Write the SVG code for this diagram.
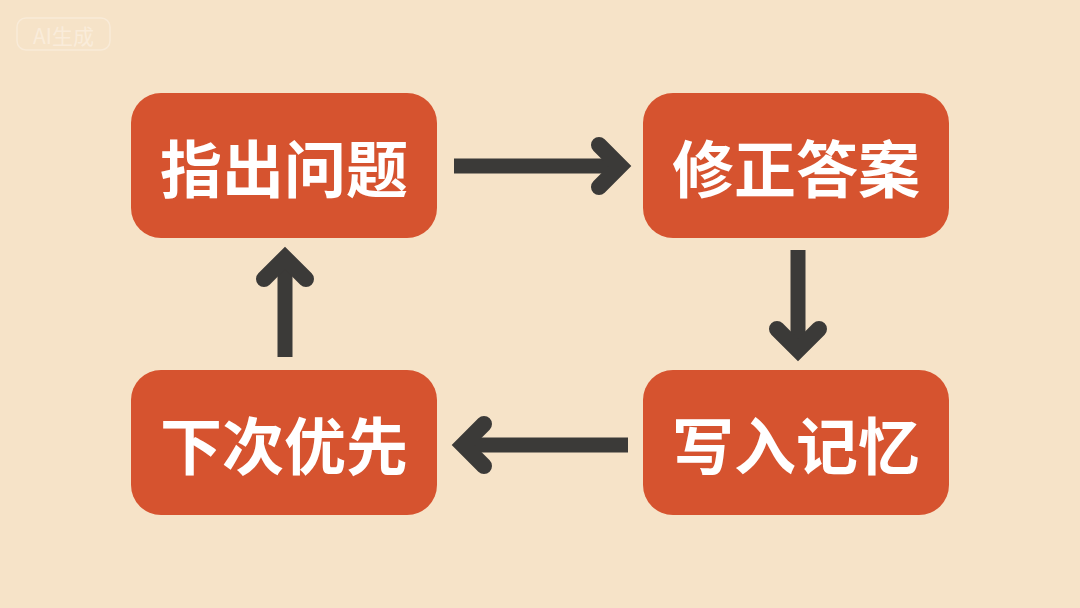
<svg xmlns="http://www.w3.org/2000/svg" width="1080" height="608" viewBox="0 0 1080 608">
<defs>
<style>
.box{fill:#D6532F;}
.lbl{fill:#FFFFFF;font-family:"Noto Sans CJK SC","Noto Sans",sans-serif;font-weight:700;font-size:62px;text-anchor:middle;dominant-baseline:central;}
.ln{stroke:#3B3A38;stroke-width:15;fill:none;stroke-linecap:butt;}
.hd{stroke:#3B3A38;stroke-width:16;fill:none;stroke-linecap:round;stroke-linejoin:miter;}
</style>
</defs>
<rect width="1080" height="608" fill="#F6E3C8"/>
<g id="watermark" opacity="0.7">
<rect x="17" y="18" width="93" height="32" rx="9" fill="none" stroke="#FBEFDF" stroke-width="1.5"/>
<text x="63.5" y="35" font-family="Noto Sans CJK SC,sans-serif" font-size="21" fill="#FCF1E3" text-anchor="middle" dominant-baseline="central">AI生成</text>
</g>
<g id="node1"><rect class="box" x="131" y="93" width="306" height="145" rx="30"/><text class="lbl" x="284" y="166">指出问题</text></g>
<g id="node2"><rect class="box" x="643" y="93" width="306" height="145" rx="30"/><text class="lbl" x="796" y="166">修正答案</text></g>
<g id="node3"><rect class="box" x="643" y="370" width="306" height="145" rx="30"/><text class="lbl" x="796" y="443">写入记忆</text></g>
<g id="node4"><rect class="box" x="131" y="370" width="306" height="145" rx="30"/><text class="lbl" x="284" y="443">下次优先</text></g>
<g id="connectors">
<line class="ln" x1="454" y1="166" x2="620" y2="166"/>
<polyline class="hd" points="599,145 620,166 599,187"/>
<line class="ln" x1="798" y1="250" x2="798" y2="350"/>
<polyline class="hd" points="777,329 798,350 819,329"/>
<line class="ln" x1="628" y1="445" x2="463" y2="445"/>
<polyline class="hd" points="484,424 463,445 484,466"/>
<line class="ln" x1="285" y1="357" x2="285" y2="258"/>
<polyline class="hd" points="264,279 285,258 306,279"/>
</g>
</svg>
